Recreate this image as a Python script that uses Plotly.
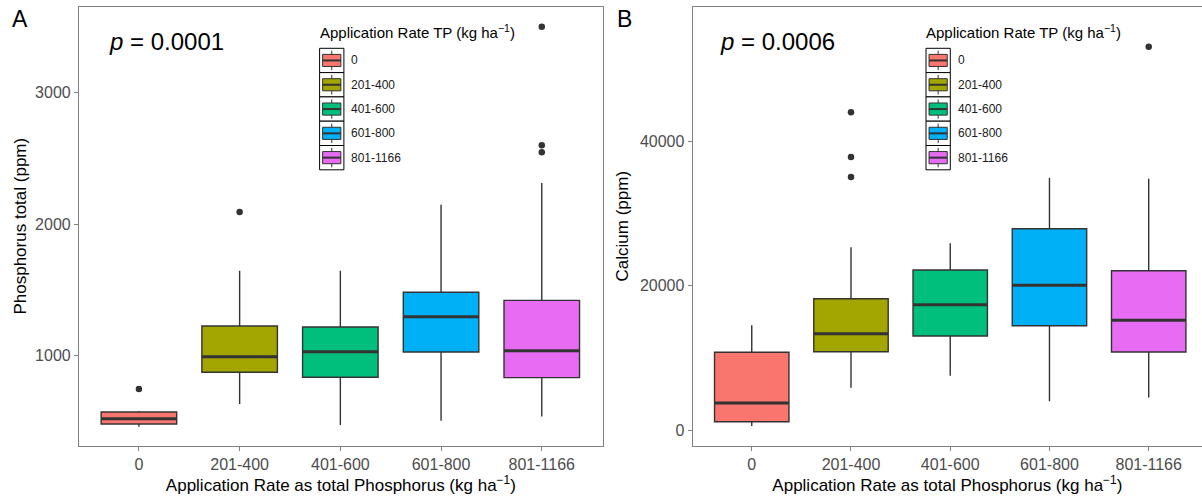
import plotly.graph_objects as go

W, H = 1202, 498

categories = ["0", "201-400", "401-600", "601-800", "801-1166"]
colors = ["#F8766D", "#A3A500", "#00BF7D", "#00B0F6", "#E76BF3"]

# Panel A: Phosphorus total (ppm)
p_lower = [460, 633, 473, 506, 538]
p_q1 = [481, 874, 836, 1028, 833]
p_median = [521, 992, 1030, 1297, 1038]
p_q3 = [572, 1226, 1218, 1482, 1421]
p_upper = [579, 1646, 1646, 2148, 2313]
p_outliers = [[747], [2093], [], [], [3502, 2600, 2547]]
p_ticks = [1000, 2000, 3000]

# Panel B: Calcium (ppm)
ca_lower = [554, 5859, 7521, 3989, 4501]
ca_q1 = [1150, 10845, 13019, 14446, 10803]
ca_median = [3740, 13338, 17355, 20042, 15194]
ca_q3 = [10762, 18186, 22161, 27881, 22064]
ca_upper = [14501, 25305, 25859, 34945, 34806]
ca_outliers = [[], [44003, 37812, 35042], [], [], [53089]]
ca_ticks = [0, 20000, 40000]

FONT = "Liberation Sans, Arial, sans-serif"
BOXW = 0.75
EDGE = "#333333"
BORDER = "#808080"

fig = go.Figure()


def add_panel(xa, ya, lower, q1, med, q3, upper, outl):
    for i in range(len(categories)):
        fig.add_trace(go.Box(
            x=[i], q1=[q1[i]], median=[med[i]], q3=[q3[i]],
            lowerfence=[lower[i]], upperfence=[upper[i]],
            width=BOXW, whiskerwidth=0, fillcolor=colors[i],
            line=dict(color=EDGE, width=1.4), boxpoints=False,
            name=categories[i], showlegend=False, hoverinfo="skip",
            xaxis=xa, yaxis=ya))
        fig.add_trace(go.Scatter(
            x=[i - BOXW / 2, i + BOXW / 2], y=[med[i], med[i]], mode="lines",
            line=dict(color=EDGE, width=3), showlegend=False, hoverinfo="skip",
            xaxis=xa, yaxis=ya))
        if outl[i]:
            fig.add_trace(go.Scatter(
                x=[i] * len(outl[i]), y=outl[i], mode="markers",
                marker=dict(color=EDGE, size=6.5), showlegend=False,
                hoverinfo="skip", xaxis=xa, yaxis=ya))


add_panel("x", "y", p_lower, p_q1, p_median, p_q3, p_upper, p_outliers)
add_panel("x2", "y2", ca_lower, ca_q1, ca_median, ca_q3, ca_upper, ca_outliers)

xtitle = "Application Rate as total Phosphorus (kg ha<sup>\u22121</sup>)"
ydom = [1 - 445.7 / H, 1 - 6.7 / H]

common_x = dict(
    tickmode="array", tickvals=list(range(len(categories))), ticktext=categories,
    ticks="outside", ticklen=4, tickwidth=1, tickcolor=BORDER,
    tickfont=dict(family=FONT, size=16, color="#4D4D4D"),
    showline=True, linecolor=BORDER, linewidth=1.2, mirror=True,
    showgrid=False, zeroline=False,
    title=dict(text=xtitle, font=dict(family=FONT, size=17, color="#000000"), standoff=6),
)
common_y = dict(
    tickmode="array", tickformat="d",
    ticks="outside", ticklen=4, tickwidth=1, tickcolor=BORDER,
    tickfont=dict(family=FONT, size=16, color="#4D4D4D"),
    showline=True, linecolor=BORDER, linewidth=1.2,
    showgrid=False, zeroline=False, domain=ydom,
)

fig.update_layout(
    width=W, height=H, margin=dict(l=0, r=0, t=0, b=0),
    paper_bgcolor="white", plot_bgcolor="white",
    font=dict(family=FONT),
    xaxis=dict(common_x, domain=[79 / W, 602.7 / W], range=[-0.595, 4.605], anchor="y"),
    yaxis=dict(common_y, range=[315.6, 3654], tickvals=p_ticks,
               ticktext=[str(v) for v in p_ticks], mirror=True, anchor="x",
               title=dict(text="Phosphorus total (ppm)", font=dict(family=FONT, size=17, color="#000000"), standoff=4)),
    xaxis2=dict(common_x, domain=[692.7 / W, 1.0], range=[-0.595, 4.537], anchor="y2"),
    yaxis2=dict(common_y, range=[-2175, 58629], tickvals=ca_ticks,
                ticktext=[str(v) for v in ca_ticks], mirror=False, anchor="x2",
                title=dict(text="Calcium (ppm)", font=dict(family=FONT, size=17, color="#000000"), standoff=6)),
    showlegend=False,
)


def px(x):
    return x / W


def py(y):
    return 1 - y / H


annotations = []
shapes = []


def text(x, y, s, size, color="#000000"):
    annotations.append(dict(
        x=px(x), y=py(y), xref="paper", yref="paper", text=s, showarrow=False,
        xanchor="left", yanchor="middle", font=dict(family=FONT, size=size, color=color)))


# panel letters and p-values
text(9.5, 19, "A", 23)
text(615, 19, "B", 23)
text(107, 41, "<i>p</i> = 0.0001", 24)
text(718, 41, "<i>p</i> = 0.0006", 24)


def legend(x0, title_y, y0, cell, label_x):
    text(x0 - 2, title_y, "Application Rate TP (kg ha<sup>\u22121</sup>)", 15)
    for i, lab in enumerate(categories):
        cy = y0 + i * cell
        shapes.append(dict(type="rect", xref="paper", yref="paper",
                           x0=px(x0), x1=px(x0 + cell), y0=py(cy), y1=py(cy + cell),
                           line=dict(color="#000000", width=1), fillcolor="white", layer="above"))
        shapes.append(dict(type="line", xref="paper", yref="paper",
                           x0=px(x0 + cell / 2), x1=px(x0 + cell / 2),
                           y0=py(cy + 0.1 * cell), y1=py(cy + 0.9 * cell),
                           line=dict(color=EDGE, width=1), layer="above"))
        shapes.append(dict(type="rect", xref="paper", yref="paper",
                           x0=px(x0 + 0.125 * cell), x1=px(x0 + 0.875 * cell),
                           y0=py(cy + 0.25 * cell), y1=py(cy + 0.75 * cell),
                           line=dict(color=EDGE, width=1), fillcolor=colors[i], layer="above"))
        shapes.append(dict(type="line", xref="paper", yref="paper",
                           x0=px(x0 + 0.125 * cell), x1=px(x0 + 0.875 * cell),
                           y0=py(cy + cell / 2), y1=py(cy + cell / 2),
                           line=dict(color=EDGE, width=2), layer="above"))
        text(label_x - 2, cy + cell / 2, lab, 12, "#1A1A1A")


legend(319.6, 31, 48.3, 24.3, 351.3)
legend(926, 31, 48.3, 24.3, 957.8)

fig.update_layout(annotations=annotations, shapes=shapes)

fig.write_html("out.html", config={"displayModeBar": False},
               post_script="document.body.style.margin='0';document.body.style.overflow='hidden';")
